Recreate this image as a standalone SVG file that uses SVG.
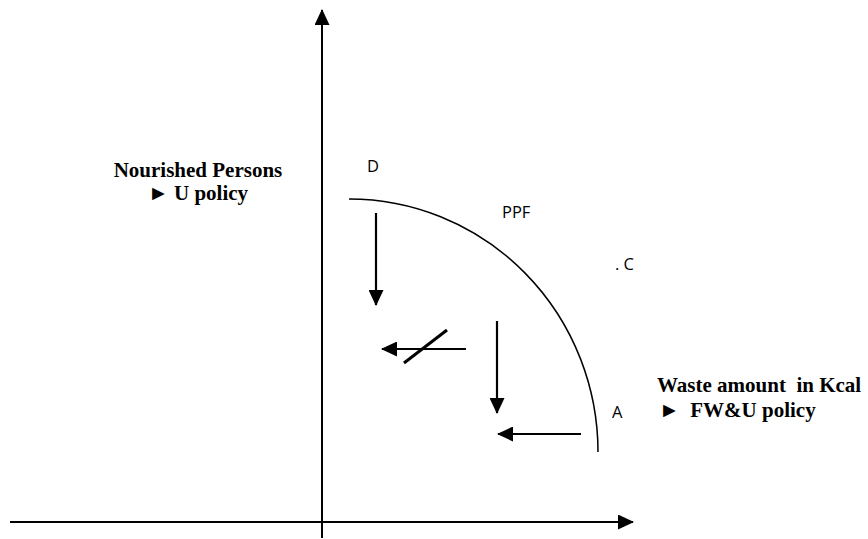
<svg xmlns="http://www.w3.org/2000/svg" width="868" height="539" viewBox="0 0 868 539">
<style>
.ax{stroke:#000;stroke-width:2;fill:none}
.ar{stroke:#000;stroke-width:2.2;fill:none}
.lb{font-family:"Liberation Serif","Times New Roman",serif;font-weight:bold;font-size:21px;fill:#000}
.pt{font-family:"Open Sans","Liberation Sans",sans-serif;font-size:16.5px;fill:#000}
</style>
<defs>
<marker id="ah2" markerWidth="16" markerHeight="15" refX="15" refY="7.5" orient="auto" markerUnits="userSpaceOnUse" viewBox="0 0 16 15">
<path d="M0,0 L16,7.5 L0,15 z" fill="#000"/>
</marker>
</defs>
<g id="axes">
<line class="ax" x1="322" y1="538" x2="322" y2="10" marker-end="url(#ah2)"/>
<line class="ax" x1="10" y1="522" x2="633" y2="522" marker-end="url(#ah2)"/>
</g>
<g id="ppf-curve">
<path d="M349,199 A249,253 0 0 1 598,452" stroke="#000" stroke-width="1.5" fill="none"/>
</g>
<g id="connectors">
<line class="ar" x1="376" y1="213" x2="376" y2="305" marker-end="url(#ah2)"/>
<line class="ar" x1="466" y1="349" x2="382" y2="349" marker-end="url(#ah2)"/>
<line stroke="#000" stroke-width="3" x1="404" y1="363" x2="447" y2="330"/>
<line class="ar" x1="497" y1="321" x2="497" y2="413" marker-end="url(#ah2)"/>
<line class="ar" x1="581" y1="434" x2="498" y2="434" marker-end="url(#ah2)"/>
</g>
<g id="label-y">
<text class="lb" x="198" y="177" text-anchor="middle">Nourished Persons</text>
<text class="lb" x="198" y="200" text-anchor="middle">► U policy</text>
</g>
<g id="label-x">
<text class="lb" x="657" y="392" xml:space="preserve">Waste amount  in Kcal</text>
<text class="lb" x="659" y="417" xml:space="preserve">►  FW&amp;U policy</text>
</g>
<g id="point-D"><text class="pt" x="367" y="172">D</text></g>
<g id="label-PPF"><text class="pt" x="502" y="218">PPF</text></g>
<g id="point-C"><text class="pt" x="615" y="270">. C</text></g>
<g id="point-A"><text class="pt" x="612" y="418">A</text></g>
</svg>
